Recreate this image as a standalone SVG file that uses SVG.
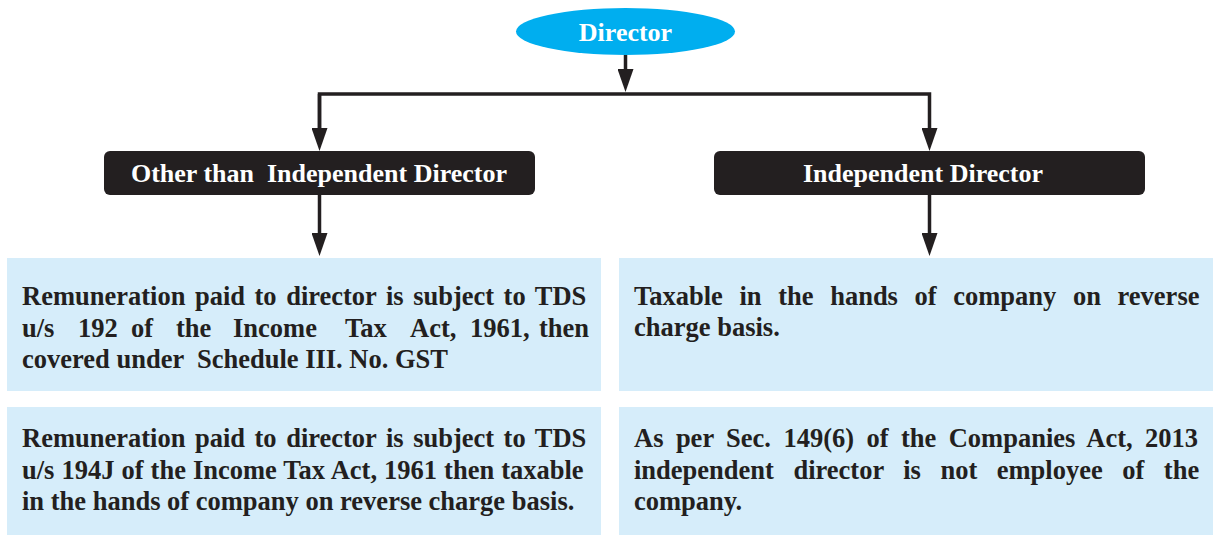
<svg xmlns="http://www.w3.org/2000/svg" width="1213" height="535" viewBox="0 0 1213 535">
<style>
.head{fill:#231f20}
.lbl{font-family:"Liberation Serif","DejaVu Serif",serif;font-weight:bold;font-size:26px;fill:#ffffff;text-anchor:middle}
.card{fill:#d6edfa}
.body{font-family:"Liberation Serif","DejaVu Serif",serif;font-weight:bold;font-size:26.5px;fill:#231f20}
.conn{fill:none;stroke:#231f20;stroke-width:3.5}
</style>
<defs>
<marker id="arr" markerUnits="userSpaceOnUse" markerWidth="23" markerHeight="16" viewBox="0 0 23 16" refX="15" refY="8" orient="auto">
<path d="M0,0 L23,8 L0,16 Z" fill="#231f20"/>
</marker>
</defs>
<rect width="1213" height="535" fill="#ffffff"/>

<g id="connectors">
<line class="conn" x1="625.5" y1="55" x2="625.5" y2="84" marker-end="url(#arr)"/>
<path class="conn" d="M319.5,143 V94 H929.5 V143" marker-end="url(#arr)"/>
<line class="conn" x1="319.5" y1="94" x2="319.5" y2="143" marker-end="url(#arr)"/>
<line class="conn" x1="319.5" y1="195" x2="319.5" y2="248" marker-end="url(#arr)"/>
<line class="conn" x1="929.5" y1="195" x2="929.5" y2="248" marker-end="url(#arr)"/>
</g>

<g id="director">
<ellipse cx="625.5" cy="31.5" rx="109.5" ry="23.5" fill="#00aeef"/>
<text class="lbl" x="625.5" y="41">Director</text>
</g>

<g id="other-than-independent">
<rect class="head" x="104" y="151" width="431" height="44" rx="6"/>
<text class="lbl" x="319" y="182" xml:space="preserve">Other than  Independent Director</text>
</g>

<g id="independent">
<rect class="head" x="714" y="151" width="431" height="44" rx="6"/>
<text class="lbl" x="923" y="182">Independent Director</text>
</g>

<g id="left-1">
<rect class="card" x="7" y="258" width="594" height="133"/>
<text class="body" x="22" y="305" style="word-spacing:2.9px">Remuneration paid to director is subject to TDS</text>
<text class="body" y="337"><tspan x="22">u/s</tspan><tspan x="78">192</tspan><tspan x="131">of</tspan><tspan x="176">the</tspan><tspan x="233">Income</tspan><tspan x="345">Tax</tspan><tspan x="410">Act,</tspan><tspan x="470">1961,</tspan><tspan x="539">then</tspan></text>
<text class="body" x="22" y="368" xml:space="preserve">covered under  Schedule III. No. GST</text>
</g>

<g id="left-2">
<rect class="card" x="7" y="407" width="594" height="128"/>
<text class="body" x="22" y="447" style="word-spacing:2.9px">Remuneration paid to director is subject to TDS</text>
<text class="body" x="22" y="479" style="word-spacing:0.4px">u/s 194J of the Income Tax Act, 1961 then taxable</text>
<text class="body" x="22" y="510">in the hands of company on reverse charge basis.</text>
</g>

<g id="right-1">
<rect class="card" x="619" y="258" width="594" height="133"/>
<text class="body" x="634" y="305" style="word-spacing:10px">Taxable in the hands of company on reverse</text>
<text class="body" x="634" y="336">charge basis.</text>
</g>

<g id="right-2">
<rect class="card" x="619" y="407" width="594" height="128"/>
<text class="body" x="634" y="447" style="word-spacing:5.8px">As per Sec. 149(6) of the Companies Act, 2013</text>
<text class="body" x="634" y="479" style="word-spacing:12.9px">independent director is not employee of the</text>
<text class="body" x="634" y="510">company.</text>
</g>
</svg>
